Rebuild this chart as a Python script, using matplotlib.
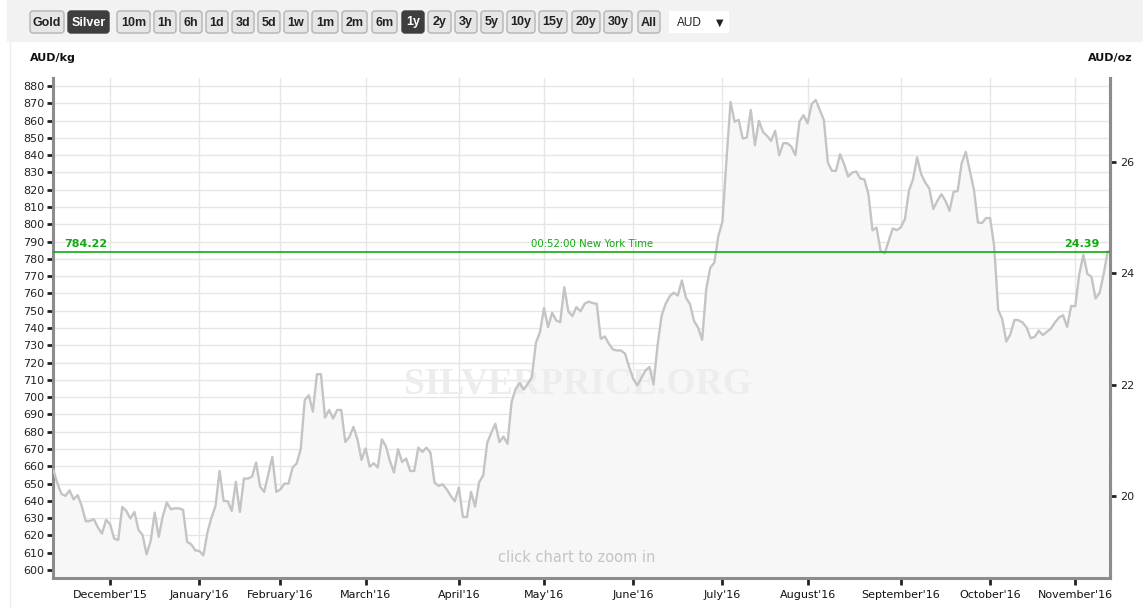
import matplotlib
matplotlib.use("Agg")
import matplotlib.pyplot as plt
from matplotlib.patches import FancyBboxPatch, Rectangle
import numpy as np
import pandas as pd

# ---------------- data ----------------
start_date = "2015-11-11"
end_date = "2016-11-11"
holidays = ["2015-12-25", "2016-01-01"]

prices_aud_kg = [
    657.9, 650.2, 644.0, 642.9, 646.1, 640.9, 643.3, 637.1, 628.2, 628.4,
    629.4, 624.6, 621.1, 629.0, 626.5, 618.2, 617.4, 636.5, 634.2, 629.8,
    633.6, 623.2, 620.3, 609.1, 616.8, 633.2, 619.2, 631.3, 639.0, 635.2,
    635.7, 635.7, 634.8, 616.3, 614.9, 611.4, 611.0, 608.5, 621.7, 630.3,
    637.1, 657.3, 640.0, 639.8, 634.2, 651.0, 633.6, 652.9, 652.9, 654.1,
    662.2, 648.3, 645.2, 655.4, 665.4, 645.2, 646.7, 650.0, 650.0, 659.3,
    661.6, 669.9, 698.4, 701.1, 691.7, 713.3, 713.3, 688.2, 692.6, 687.6,
    692.6, 692.6, 674.1, 677.0, 682.8, 675.6, 663.7, 670.4, 659.8, 661.8,
    659.3, 675.6, 671.7, 663.1, 656.4, 669.9, 662.5, 664.5, 657.3, 657.3,
    670.8, 668.3, 670.8, 667.9, 650.6, 648.7, 649.6, 646.7, 642.9, 639.8,
    647.7, 630.7, 630.7, 645.2, 636.7, 650.8, 654.7, 673.6, 679.4, 684.6,
    674.0, 677.2, 673.0, 697.1, 704.8, 708.1, 704.4, 707.7, 711.6, 731.4,
    737.6, 751.5, 740.5, 748.8, 744.4, 743.4, 763.6, 749.6, 746.9, 752.1,
    749.6, 754.0, 755.3, 754.4, 754.0, 733.7, 735.1, 730.9, 727.6, 727.0,
    727.0, 725.1, 717.4, 710.6, 706.8, 711.0, 715.4, 717.4, 707.3, 729.9,
    747.2, 754.0, 758.4, 760.4, 758.8, 767.5, 757.6, 753.7, 744.1, 740.2,
    733.1, 762.4, 774.9, 777.8, 793.3, 801.4, 837.6, 870.8, 859.2, 860.4,
    849.6, 850.1, 866.1, 845.7, 859.8, 853.4, 851.1, 848.2, 854.0, 839.9,
    846.9, 846.9, 844.9, 839.9, 859.4, 863.1, 858.4, 869.4, 871.9, 866.1,
    860.4, 835.7, 830.9, 830.9, 840.5, 834.7, 827.6, 829.9, 830.5, 826.4,
    826.0, 817.4, 796.5, 798.1, 784.6, 783.2, 790.4, 797.6, 796.6, 798.2,
    803.0, 819.4, 826.1, 838.7, 829.0, 824.2, 820.7, 808.8, 813.6, 817.4,
    813.6, 807.8, 818.8, 819.2, 835.4, 841.9, 830.9, 820.3, 801.0, 800.7,
    803.6, 803.6, 787.5, 750.5, 745.1, 732.2, 736.4, 744.7, 744.5, 743.2,
    740.3, 734.1, 734.9, 738.4, 735.9, 737.8, 739.7, 743.2, 746.1, 747.4,
    740.7, 752.8, 752.5, 771.2, 782.3, 771.2, 769.6, 757.1, 760.2, 771.2,
    784.22,
]
last_price_kg = 784.22
last_price_oz = 24.39
time_label = "00:52:00 New York Time"
grams_per_oz = 31.1035
left_ticks = list(range(600, 881, 10))
right_ticks = [20, 22, 24, 26]
buttons = ["Gold", "Silver", "10m", "1h", "6h", "1d", "3d", "5d", "1w", "1m",
           "2m", "6m", "1y", "2y", "3y", "5y", "10y", "15y", "20y", "30y", "All"]
selected_buttons = ["Silver", "1y"]
currency = "AUD"

# ---------------- derived ----------------
dates = pd.bdate_range(start_date, end_date)
dates = dates[~dates.isin(pd.to_datetime(holidays))]
n = min(len(dates), len(prices_aud_kg))
dates = dates[:n]
vals = np.array(prices_aud_kg[:n])
idx = np.arange(n)

tick_pos, tick_lab = [], []
for i in range(1, n):
    if dates[i].month != dates[i - 1].month:
        tick_pos.append(i)
        tick_lab.append(dates[i].strftime("%B'%y"))

kg_to_oz = 1000.0 / grams_per_oz

# ---------------- figure ----------------
W, H = 1143, 608
fig = plt.figure(figsize=(W / 100, H / 100), dpi=100)
fig.patch.set_facecolor("white")

# background overlay in pixel coordinates
bg = fig.add_axes([0, 0, 1, 1])
bg.set_xlim(0, W)
bg.set_ylim(H, 0)
bg.axis("off")
bg.add_patch(Rectangle((7, 0), W - 7, 42, facecolor="#f2f2f2", edgecolor="none"))
bg.plot([9.5, 9.5], [42, H], color="#ececec", lw=1)

btn_x = [(30, 64), (68, 109), (117, 150), (154, 176), (180, 202), (206, 228),
         (232, 254), (258, 280), (284, 308), (312, 338), (342, 367), (372, 397),
         (402, 424), (428, 451), (455, 477), (481, 503), (507, 535), (539, 567),
         (572, 600), (604, 632), (638, 660)]
for (x0, x1), lab in zip(btn_x, buttons):
    sel = lab in selected_buttons
    bg.add_patch(FancyBboxPatch((x0, 11), x1 - x0, 22,
                                boxstyle="round,pad=0,rounding_size=3",
                                facecolor="#3e3e3e" if sel else "#e6e6e6",
                                edgecolor="#3e3e3e" if sel else "#b4b4b4", lw=1))
    bg.text((x0 + x1) / 2, 22.5, lab, ha="center", va="center", fontsize=9,
            fontweight="bold", color="white" if sel else "#222222",
            family=["Liberation Sans Narrow", "Liberation Sans", "DejaVu Sans"])
bg.add_patch(Rectangle((669, 11), 60, 22, facecolor="white", edgecolor="none"))
bg.text(677, 22.5, currency, ha="left", va="center", fontsize=8.5, color="#222222",
        family=["Liberation Sans", "DejaVu Sans"])
bg.text(720, 22.5, "\u25BC", ha="center", va="center", fontsize=7, color="#222222")

bg.text(30, 58, "AUD/kg", ha="left", va="center", fontsize=8, fontweight="bold", color="#111111")
bg.text(1133, 58, "AUD/oz", ha="right", va="center", fontsize=8, fontweight="bold", color="#111111")

# main chart axes
L, R, T, B = 53, 1110, 78, 578
ax = fig.add_axes([L / W, 1 - B / H, (R - L) / W, (B - T) / H])
ax.set_facecolor("white")
ymin, ymax = 595.4, 884.6
ax.set_ylim(ymin, ymax)
ax.set_xlim(-0.08, n - 1 + 0.57)

ax.fill_between(idx, vals, ymin, color="#f7f7f7", lw=0, zorder=1)
ax.plot(idx, vals, color="#c4c4c4", lw=1.7, zorder=3, solid_joinstyle="round")

ax.set_yticks(left_ticks)
ax.set_yticklabels([str(v) for v in left_ticks])
ax.set_xticks(tick_pos)
ax.set_xticklabels(tick_lab)
ax.grid(True, color="#e6e6e6", lw=1, zorder=0)
ax.set_axisbelow(True)

for s in ["top"]:
    ax.spines[s].set_visible(False)
for s in ["left", "bottom", "right"]:
    ax.spines[s].set_color("#8c8c8c")
    ax.spines[s].set_linewidth(2.2)
ax.tick_params(axis="y", direction="out", length=4, width=2, color="#222222",
               labelsize=8, labelcolor="#222222", pad=2)
ax.tick_params(axis="x", direction="out", length=5, width=2, color="#222222",
               labelsize=8, labelcolor="#111111", pad=4)

sec = ax.secondary_yaxis("right", functions=(lambda v: v / kg_to_oz, lambda o: o * kg_to_oz))
sec.set_yticks(right_ticks)
sec.set_yticklabels([str(v) for v in right_ticks])
sec.spines["right"].set_color("#8c8c8c")
sec.spines["right"].set_linewidth(2.2)
sec.tick_params(direction="out", length=4, width=2, color="#222222",
                labelsize=8, labelcolor="#222222", pad=3)

# watermark and hint
ax.text(0.4967, 0.388, "SILVERPRICE.ORG", transform=ax.transAxes, ha="center", va="center",
        fontsize=27, fontweight="bold", color="#ededed",
        family=["Liberation Serif", "DejaVu Serif"], zorder=2)
ax.text(0.495, 0.04, "click chart to zoom in", transform=ax.transAxes, ha="center",
        va="center", fontsize=10.5, color="#c4c4c4", zorder=4)

# current price line
green = "#10aa10"
ax.axhline(last_price_kg, color=green, lw=1.2, zorder=5)
trans = ax.get_yaxis_transform()
ax.annotate(f"{last_price_kg:.2f}", xy=(0.0104, last_price_kg), xycoords=trans,
            xytext=(0, 2), textcoords="offset points", ha="left", va="bottom",
            fontsize=8, fontweight="bold", color=green, zorder=6)
ax.annotate(f"{last_price_oz:.2f}", xy=(0.9905, last_price_kg), xycoords=trans,
            xytext=(0, 2), textcoords="offset points", ha="right", va="bottom",
            fontsize=8, fontweight="bold", color=green, zorder=6)
ax.annotate(time_label, xy=(0.51, last_price_kg), xycoords=trans,
            xytext=(0, 2), textcoords="offset points", ha="center", va="bottom",
            fontsize=7.3, color=green, zorder=6)

fig.savefig("out.png", dpi=100, facecolor="white")
